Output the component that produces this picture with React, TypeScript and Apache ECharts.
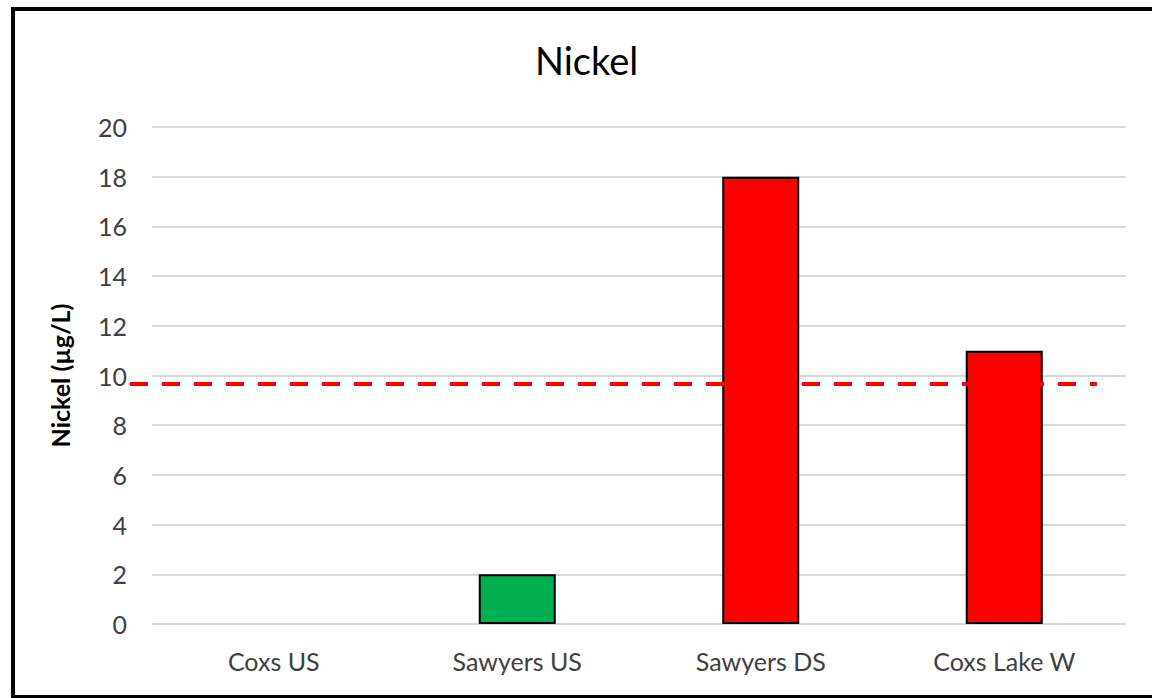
import React, { useEffect, useRef } from "react";
import * as echarts from "echarts";

// Sampling sites and measured nickel concentrations (µg/L)
const categories = ["Coxs US", "Sawyers US", "Sawyers DS", "Coxs Lake W"];
const nickelValues: (number | null)[] = [null, 2, 18, 11];
const barColors = ["#00B050", "#00B050", "#FF0000", "#FF0000"];
// Guideline trigger value drawn as the dashed red line
const guidelineValue = 9.66;
const yTicks = { min: 0, max: 20, interval: 2 };

const FONT = "Lato, 'Open Sans', 'Noto Sans', sans-serif";

export default function App() {
  const ref = useRef<HTMLDivElement>(null);

  useEffect(() => {
    document.body.style.margin = "0";
    const chart = echarts.init(ref.current!, null, { renderer: "svg" });
    chart.setOption({
      animation: false,
      backgroundColor: "#ffffff",
      title: {
        text: "Nickel",
        left: 530,
        top: 36,
        textStyle: { fontFamily: FONT, fontSize: 38, fontWeight: "normal", color: "#000000" },
      },
      grid: { left: 152, right: 26, top: 127, bottom: 74 },
      xAxis: {
        type: "category",
        data: categories,
        axisLine: { show: false },
        axisTick: { show: false },
        axisLabel: { fontFamily: FONT, fontSize: 25, color: "#404040", margin: 24 },
      },
      yAxis: {
        type: "value",
        min: yTicks.min,
        max: yTicks.max,
        interval: yTicks.interval,
        name: "Nickel (µg/L)",
        nameLocation: "middle",
        nameGap: 80,
        nameTextStyle: { fontFamily: FONT, fontSize: 25, fontWeight: "bold", color: "#000000" },
        axisLine: { show: false },
        axisTick: { show: false },
        axisLabel: { fontFamily: FONT, fontSize: 25, color: "#404040", margin: 25 },
        splitLine: { lineStyle: { color: "#D9D9D9", width: 2 } },
      },
      series: [
        {
          type: "bar",
          barWidth: 77,
          data: nickelValues.map((v, i) => ({
            value: v,
            itemStyle: { color: barColors[i], borderColor: "#000000", borderWidth: 2 },
          })),
          markLine: {
            silent: true,
            symbol: "none",
            label: { show: false },
            lineStyle: { color: "#FF0000", width: 4, type: [18, 14] },
            data: [[{ yAxis: guidelineValue, x: 130 }, { yAxis: guidelineValue, x: 1097 }]],
          },
        },
      ],
      graphic: [
        {
          type: "rect",
          shape: { x: 13, y: 9, width: 1150, height: 688 },
          style: { fill: "none", stroke: "#000000", lineWidth: 4 },
          z: 100,
        },
      ],
    });
    return () => chart.dispose();
  }, []);

  return <div ref={ref} style={{ width: 1152, height: 698 }} />;
}
